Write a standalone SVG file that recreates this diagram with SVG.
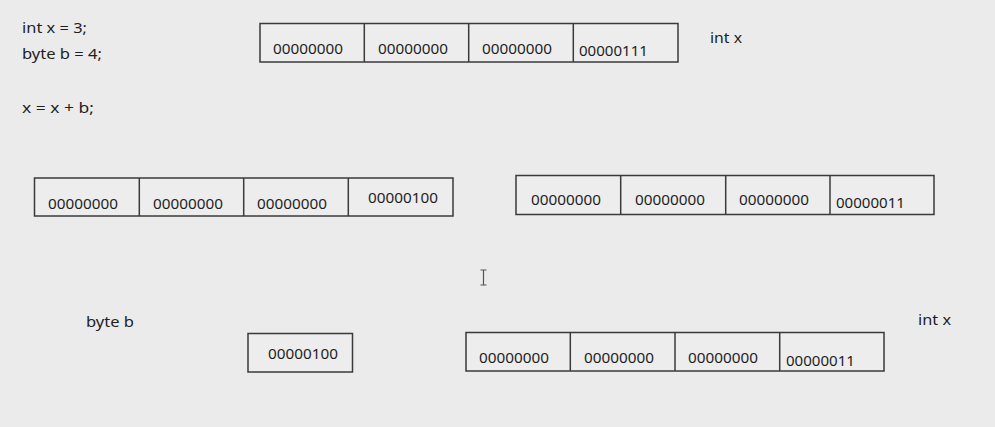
<svg xmlns="http://www.w3.org/2000/svg" width="995" height="427" viewBox="0 0 995 427">
<style>
.bg{fill:#ebebeb}
.box{fill:#ededed;stroke:#3a3a3a;stroke-width:1.5}
.div{stroke:#3a3a3a;stroke-width:1.5}
text{font-family:"Noto Sans","Open Sans","Liberation Sans",sans-serif;font-size:15px;fill:#1e1e1e}
.cur{stroke:#555;stroke-width:1.2;fill:none}
</style>
<rect class="bg" x="0" y="0" width="995" height="427"/>

<g id="code">
<text x="22" y="33" textLength="65" lengthAdjust="spacingAndGlyphs">int x = 3;</text>
<text x="22" y="59" textLength="80" lengthAdjust="spacingAndGlyphs">byte b = 4;</text>
<text x="22" y="113" textLength="72" lengthAdjust="spacingAndGlyphs">x = x + b;</text>
</g>

<g id="intx-top">
<rect class="box" x="260" y="23.5" width="418" height="38.5"/>
<line class="div" x1="364.3" y1="23.5" x2="364.3" y2="62"/>
<line class="div" x1="468.7" y1="23.5" x2="468.7" y2="62"/>
<line class="div" x1="573.3" y1="23.5" x2="573.3" y2="62"/>
<text x="273" y="54" textLength="70" lengthAdjust="spacingAndGlyphs">00000000</text>
<text x="378" y="54" textLength="70" lengthAdjust="spacingAndGlyphs">00000000</text>
<text x="482" y="54" textLength="70" lengthAdjust="spacingAndGlyphs">00000000</text>
<text x="579" y="55.7" textLength="69" lengthAdjust="spacingAndGlyphs">00000111</text>
<text x="710" y="43" textLength="32" lengthAdjust="spacingAndGlyphs">int x</text>
</g>

<g id="byte-extended">
<rect class="box" x="34.5" y="178" width="418.5" height="38"/>
<line class="div" x1="139.3" y1="178" x2="139.3" y2="216"/>
<line class="div" x1="243.7" y1="178" x2="243.7" y2="216"/>
<line class="div" x1="348.3" y1="178" x2="348.3" y2="216"/>
<text x="48" y="209" textLength="70" lengthAdjust="spacingAndGlyphs">00000000</text>
<text x="153" y="209" textLength="70" lengthAdjust="spacingAndGlyphs">00000000</text>
<text x="257" y="209" textLength="70" lengthAdjust="spacingAndGlyphs">00000000</text>
<text x="368" y="203" textLength="70" lengthAdjust="spacingAndGlyphs">00000100</text>
</g>

<g id="intx-middle">
<rect class="box" x="516" y="175.5" width="418" height="39"/>
<line class="div" x1="620.7" y1="175.5" x2="620.7" y2="214.5"/>
<line class="div" x1="725.7" y1="175.5" x2="725.7" y2="214.5"/>
<line class="div" x1="830" y1="175.5" x2="830" y2="214.5"/>
<text x="531" y="205" textLength="70" lengthAdjust="spacingAndGlyphs">00000000</text>
<text x="635" y="205" textLength="70" lengthAdjust="spacingAndGlyphs">00000000</text>
<text x="739" y="205" textLength="70" lengthAdjust="spacingAndGlyphs">00000000</text>
<text x="836" y="207.7" textLength="69" lengthAdjust="spacingAndGlyphs">00000011</text>
</g>

<g id="cursor">
<path class="cur" d="M480.5 270h6M480.5 285h6M483.5 270v15"/>
</g>

<g id="byte-b">
<text x="86" y="327" textLength="48" lengthAdjust="spacingAndGlyphs">byte b</text>
<rect class="box" x="248" y="333.5" width="104.5" height="38.5"/>
<text x="268" y="359.3" textLength="70" lengthAdjust="spacingAndGlyphs">00000100</text>
</g>

<g id="intx-bottom">
<rect class="box" x="466" y="332.5" width="418" height="38.5"/>
<line class="div" x1="570.3" y1="332.5" x2="570.3" y2="371"/>
<line class="div" x1="675" y1="332.5" x2="675" y2="371"/>
<line class="div" x1="779.7" y1="332.5" x2="779.7" y2="371"/>
<text x="479" y="363.3" textLength="70" lengthAdjust="spacingAndGlyphs">00000000</text>
<text x="584" y="363.3" textLength="70" lengthAdjust="spacingAndGlyphs">00000000</text>
<text x="688" y="363.3" textLength="70" lengthAdjust="spacingAndGlyphs">00000000</text>
<text x="786" y="365.7" textLength="69" lengthAdjust="spacingAndGlyphs">00000011</text>
<text x="918" y="325" textLength="33" lengthAdjust="spacingAndGlyphs">int x</text>
</g>
</svg>
